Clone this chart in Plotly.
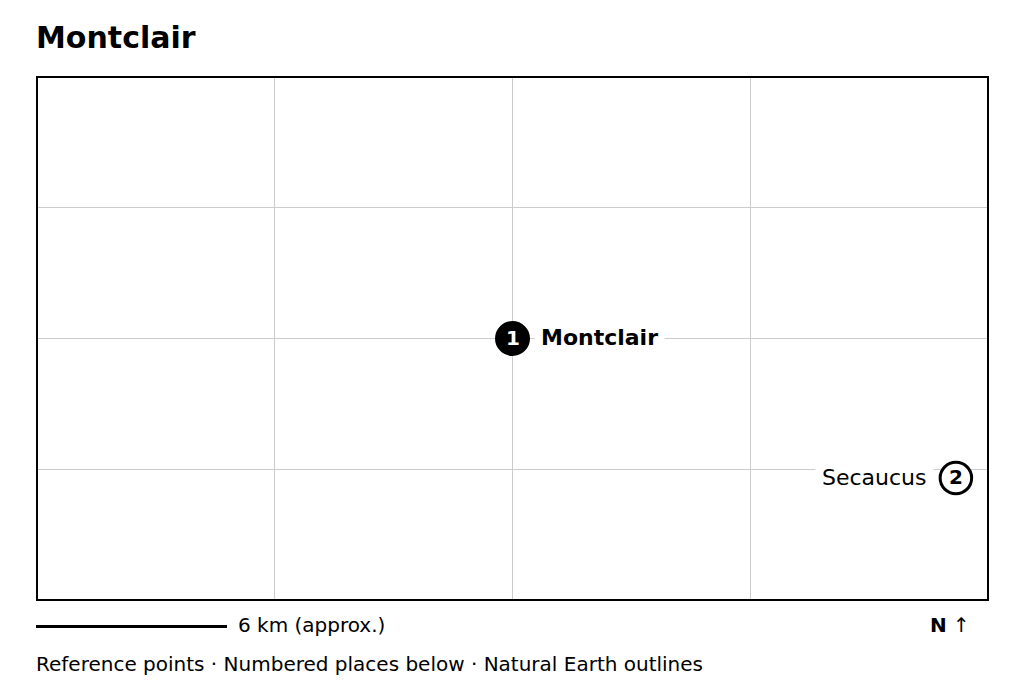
import plotly.graph_objects as go

# places
place_names = ["Montclair", "Secaucus"]
place_numbers = ["1", "2"]
place_lon = [-74.209, -74.0598]
place_lat = [40.826, 40.794]

lon_ticks = [-74.289, -74.209, -74.129]
lat_ticks = [40.796, 40.826, 40.856]
lon_range = [-74.369, -74.049]
lat_range = [40.766, 40.886]

FONT = "DejaVu Sans"
WIDTH = 1024
HEIGHT = 692
LEFT, RIGHT, TOP, BOTTOM = 37, 988, 77, 600


def px(x):
    return (x - LEFT) / (RIGHT - LEFT)


def py(y):
    return (BOTTOM - y) / (BOTTOM - TOP)


fig = go.Figure()

# Montclair is filled, Secaucus is an open ring
fig.add_trace(go.Scatter(
    x=place_lon,
    y=place_lat,
    mode="markers",
    marker=dict(size=[32, 31.5], color=["black", "white"], opacity=1,
                line=dict(color="black", width=3)),
    cliponaxis=False,
    hoverinfo="skip",
    showlegend=False,
))

# numbers inside the markers
for lon, lat, number, colour in zip(place_lon, place_lat, place_numbers, ["white", "black"]):
    fig.add_annotation(x=lon, y=lat, text="<b>" + number + "</b>", showarrow=False,
                       xanchor="center", yanchor="middle", yshift=1, borderpad=0,
                       font=dict(family=FONT, size=20, color=colour))

# place labels, white box hides the grid behind them
fig.add_annotation(x=place_lon[0], y=place_lat[0], text="<b>" + place_names[0] + "</b>",
                   showarrow=False, xanchor="left", yanchor="middle", xshift=21, yshift=1,
                   bgcolor="white", borderpad=6,
                   font=dict(family=FONT, size=22, color="black"))
fig.add_annotation(x=place_lon[1], y=place_lat[1], text=place_names[1],
                   showarrow=False, xanchor="right", yanchor="middle", xshift=-22,
                   bgcolor="white", borderpad=6,
                   font=dict(family=FONT, size=22, color="black"))

# title and footer
fig.add_annotation(xref="paper", yref="paper", x=px(35), y=py(37), text="<b>Montclair</b>",
                   showarrow=False, xanchor="left", yanchor="middle", borderpad=0,
                   font=dict(family=FONT, size=30, color="black"))
fig.add_annotation(xref="paper", yref="paper", x=px(237), y=py(625), text="6 km (approx.)",
                   showarrow=False, xanchor="left", yanchor="middle", borderpad=0,
                   font=dict(family=FONT, size=20, color="black"))
fig.add_annotation(xref="paper", yref="paper", x=px(929), y=py(625), text="<b>N</b> ↑",
                   showarrow=False, xanchor="left", yanchor="middle", borderpad=0,
                   font=dict(family=FONT, size=20, color="black"))
fig.add_annotation(xref="paper", yref="paper", x=px(35.2), y=py(664),
                   text="Reference points · Numbered places below · Natural Earth outlines",
                   showarrow=False, xanchor="left", yanchor="middle", borderpad=0,
                   font=dict(family=FONT, size=20, color="black"))

# scale bar
fig.add_shape(type="line", xref="paper", yref="paper",
              x0=px(36), x1=px(227), y0=py(626.5), y1=py(626.5),
              line=dict(color="black", width=3))

# map frame, centred on the plot edge
fig.add_shape(type="rect", xref="paper", yref="paper", layer="above",
              x0=px(37), x1=px(988), y0=py(600), y1=py(77),
              line=dict(color="black", width=2))

axis_style = dict(showgrid=True, gridcolor="#cccccc", gridwidth=1, zeroline=False,
                  showticklabels=False, ticks="", showline=False)

fig.update_layout(
    width=WIDTH,
    height=HEIGHT,
    autosize=False,
    paper_bgcolor="white",
    plot_bgcolor="white",
    margin=dict(l=LEFT, r=WIDTH - RIGHT, t=TOP, b=HEIGHT - BOTTOM, pad=0),
    xaxis=dict(range=lon_range, tickvals=lon_ticks, **axis_style),
    yaxis=dict(range=lat_range, tickvals=lat_ticks, **axis_style),
)

fig.write_html("out.html", config=dict(displayModeBar=False),
               post_script="document.body.style.margin='0';")
